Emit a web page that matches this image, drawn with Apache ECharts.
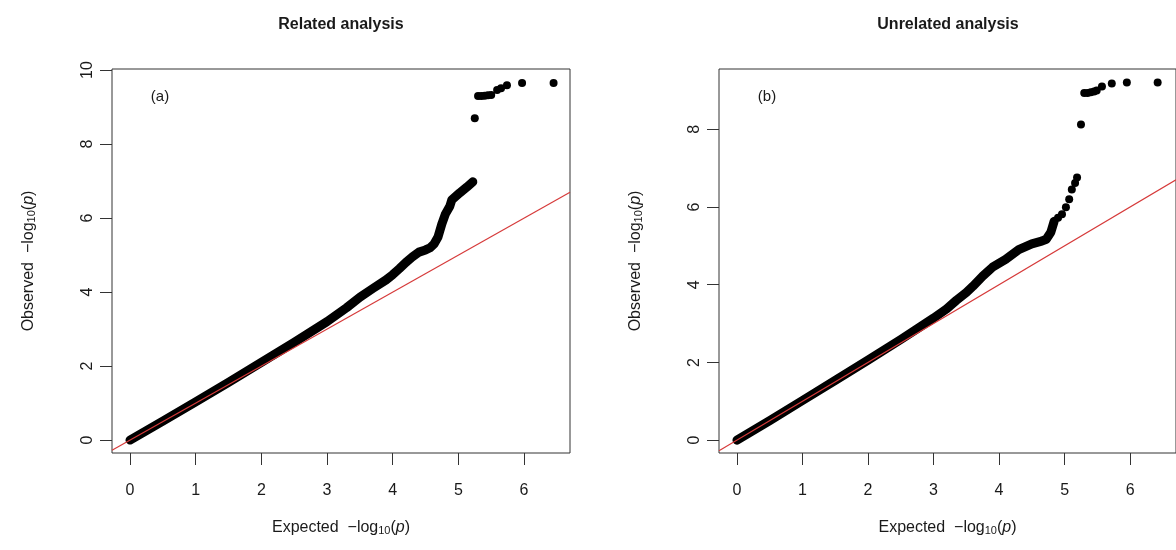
<!DOCTYPE html>
<html><head><meta charset="utf-8">
<script src="https://cdn.jsdelivr.net/npm/echarts@6/dist/echarts.min.js"></script>
<style>html,body{margin:0;padding:0;background:#fff}#c{width:1176px;height:550px}</style>
</head><body><div id="c"></div>
<script>
// ---- tick labels ----
const xTicks = [0, 1, 2, 3, 4, 5, 6];
const yTicksRelated = [0, 2, 4, 6, 8, 10];
const yTicksUnrelated = [0, 2, 4, 6, 8];

// ---- panel titles / tags ----
const titles = ['Related analysis', 'Unrelated analysis'];
const tags = ['(a)', '(b)'];

// ---- Related analysis: dense band of points (expected, observed) ----
const relatedBandX = [0, 0.5, 1, 1.5, 2, 2.5, 3, 3.3, 3.5, 3.7, 3.9, 4.0, 4.1, 4.2, 4.3, 4.4, 4.5, 4.57, 4.63, 4.69, 4.75, 4.8, 4.87, 4.9, 5.02, 5.13, 5.22];
const relatedBandY = [0, 0.51, 1.03, 1.56, 2.1, 2.64, 3.2, 3.58, 3.86, 4.1, 4.33, 4.47, 4.63, 4.8, 4.95, 5.08, 5.14, 5.2, 5.3, 5.49, 5.85, 6.1, 6.32, 6.49, 6.68, 6.84, 6.98];
// sparse top tail
const relatedTailX = [5.25, 5.3, 5.35, 5.4, 5.45, 5.5, 5.59, 5.65, 5.74, 5.97, 6.45];
const relatedTailY = [8.7, 9.3, 9.3, 9.31, 9.32, 9.33, 9.46, 9.51, 9.59, 9.65, 9.65];

// ---- Unrelated analysis ----
const unrelatedBandX = [0, 0.5, 1, 1.5, 2, 2.5, 3, 3.2, 3.35, 3.5, 3.6, 3.75, 3.9, 4.1, 4.3, 4.5, 4.65, 4.72, 4.79, 4.84];
const unrelatedBandY = [0, 0.505, 1.02, 1.54, 2.06, 2.59, 3.14, 3.38, 3.6, 3.8, 3.96, 4.22, 4.45, 4.65, 4.9, 5.05, 5.12, 5.17, 5.35, 5.63];
const unrelatedBeadsX = [4.9, 4.96, 5.02, 5.07, 5.11, 5.16, 5.19];
const unrelatedBeadsY = [5.72, 5.81, 5.99, 6.2, 6.45, 6.62, 6.76];
const unrelatedTailX = [5.25, 5.3, 5.35, 5.4, 5.45, 5.49, 5.57, 5.72, 5.95, 6.42];
const unrelatedTailY = [8.12, 8.93, 8.93, 8.95, 8.97, 9.0, 9.1, 9.18, 9.2, 9.2];

// ---- axis ranges ----
const xRange = [-0.274, 6.70];
const yRangeRelated = [-0.35, 10.03];
const yRangeUnrelated = [-0.33, 9.55];

function zip(xs, ys) { return xs.map((x, i) => [x, ys[i]]); }

const FONT = '"Liberation Sans", Arial, Helvetica, sans-serif';
const TXT = '#1a1a1a';
const nameRich = {
  sub: { fontSize: 11, fontFamily: FONT, color: TXT, verticalAlign: 'bottom', lineHeight: 11 },
  it: { fontSize: 16, fontFamily: FONT, color: TXT, fontStyle: 'italic' }
};
const xName = 'Expected  \u2212log{sub|10}({it|p})';
const yName = 'Observed  \u2212log{sub|10}({it|p})';

const gridLeft = [112, 719];
function xAxisCfg(idx) {
  return {
    gridIndex: idx, type: 'value', min: xRange[0], max: xRange[1],
    axisLine: { show: false, onZero: false },
    splitLine: { show: false },
    axisTick: { show: true, length: 12, inside: false, customValues: xTicks, lineStyle: { color: '#333', width: 1 } },
    axisLabel: { customValues: xTicks, margin: 30, fontSize: 16, fontFamily: FONT, color: TXT },
    name: xName, nameLocation: 'middle', nameGap: 67,
    nameTextStyle: { fontSize: 16, fontFamily: FONT, color: TXT, rich: nameRich }
  };
}
function yAxisCfg(idx, range, ticks) {
  return {
    gridIndex: idx, type: 'value', min: range[0], max: range[1],
    axisLine: { show: false, onZero: false },
    splitLine: { show: false },
    axisTick: { show: true, length: 12, inside: false, customValues: ticks, lineStyle: { color: '#333', width: 1 } },
    axisLabel: { customValues: ticks, rotate: 90, margin: 16, fontSize: 16, fontFamily: FONT, color: TXT },
    name: yName, nameLocation: 'middle', nameGap: 75,
    nameTextStyle: { fontSize: 16, fontFamily: FONT, color: TXT, rich: nameRich }
  };
}

function panelSeries(idx, bandX, bandY, extraX, extraY, tailX, tailY) {
  const s = [
    { type: 'line', xAxisIndex: idx, yAxisIndex: idx, data: zip(bandX, bandY), showSymbol: false, silent: true,
      lineStyle: { color: '#000', width: 9, cap: 'round', join: 'round' }, z: 2 },
    { type: 'scatter', xAxisIndex: idx, yAxisIndex: idx, data: zip(tailX, tailY), symbolSize: 8, silent: true,
      itemStyle: { color: '#000', opacity: 1 }, z: 3 },
    { type: 'line', xAxisIndex: idx, yAxisIndex: idx, data: [[xRange[0], xRange[0]], [xRange[1], xRange[1]]],
      showSymbol: false, silent: true, lineStyle: { color: '#d63a3a', width: 1.2 }, z: 5 }
  ];
  if (extraX) {
    s.push({ type: 'scatter', xAxisIndex: idx, yAxisIndex: idx, data: zip(extraX, extraY), symbolSize: 8, silent: true,
      itemStyle: { color: '#000', opacity: 1 }, z: 3 });
  }
  return s;
}

const chart = echarts.init(document.getElementById('c'), null, { renderer: 'canvas' });
chart.setOption({
  animation: false,
  backgroundColor: '#fff',
  grid: [
    { left: gridLeft[0], top: 69, width: 458, height: 384, show: true, borderColor: '#333', borderWidth: 1, backgroundColor: 'transparent' },
    { left: gridLeft[1], top: 69, width: 458, height: 384, show: true, borderColor: '#333', borderWidth: 1, backgroundColor: 'transparent' }
  ],
  xAxis: [xAxisCfg(0), xAxisCfg(1)],
  yAxis: [yAxisCfg(0, yRangeRelated, yTicksRelated), yAxisCfg(1, yRangeUnrelated, yTicksUnrelated)],
  series: [].concat(
    panelSeries(0, relatedBandX, relatedBandY, null, null, relatedTailX, relatedTailY),
    panelSeries(1, unrelatedBandX, unrelatedBandY, unrelatedBeadsX, unrelatedBeadsY, unrelatedTailX, unrelatedTailY)
  ),
  graphic: [
    { type: 'text', x: 341, y: 25, style: { text: titles[0], align: 'center', verticalAlign: 'middle', font: 'bold 16px ' + FONT, fill: TXT } },
    { type: 'text', x: 948, y: 25, style: { text: titles[1], align: 'center', verticalAlign: 'middle', font: 'bold 16px ' + FONT, fill: TXT } },
    { type: 'text', x: 160, y: 97, style: { text: tags[0], align: 'center', verticalAlign: 'middle', font: '15px ' + FONT, fill: TXT } },
    { type: 'text', x: 767, y: 97, style: { text: tags[1], align: 'center', verticalAlign: 'middle', font: '15px ' + FONT, fill: TXT } }
  ]
});
</script>
</body></html>
